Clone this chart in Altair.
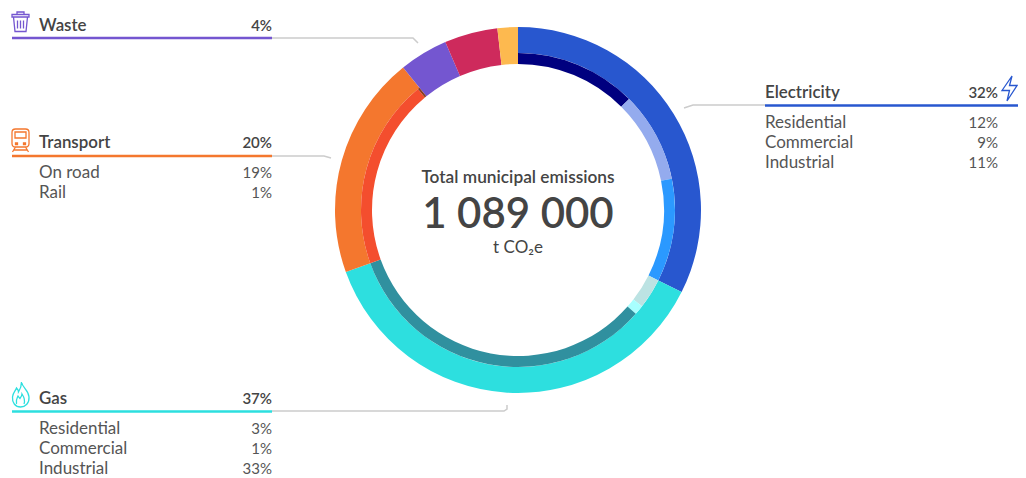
import re
import altair as alt
import pandas as pd

W, H = 1010, 470
OX, OY = 8, 8
FONT = "Lato"
DARK = "#444444"
SUB = "#555555"

# outer ring (percent of the total)
outer_names = ["Electricity", "Gas", "Transport"]
outer_start = [0, 32.4, 69.5]
outer_end = [32.4, 69.5, 89.2]
outer_colors = ["#2857cf", "#2ddfdf", "#f4772e"]

# full-width slices with no breakdown
full_names = ["Waste", "Other A", "Other B"]
full_start = [89.2, 93.5, 98.2]
full_end = [93.5, 98.2, 100]
full_colors = ["#7456d0", "#ce2a5c", "#fdb94f"]

inner_names = ["E Res", "E Com", "E Ind", "G Res", "G Com", "G Ind", "T Road", "T Rail"]
inner_start = [0, 12.5, 21.8, 32.4, 35.5, 36.5, 69.5, 89.0]
inner_end = [12.5, 21.8, 32.4, 35.5, 36.5, 69.5, 89.0, 89.2]
inner_colors = ["#00007f", "#94abee", "#2b99ff", "#bce3e3", "#a8ffff", "#30909f", "#f44e2e", "#8a3a1e"]

# heading rows
head_text = ["Waste", "Transport", "Gas", "Electricity"]
head_x = [39, 39, 39, 765]
head_y = [26, 143, 399, 93]
head_pct = ["4%", "20%", "37%", "32%"]
head_pct_x = [272, 272, 272, 998]

# sub rows
sub_text = ["On road", "Rail", "Residential", "Commercial", "Industrial",
            "Residential", "Commercial", "Industrial"]
sub_pct = ["19%", "1%", "3%", "1%", "33%", "12%", "9%", "11%"]
sub_x = [39, 39, 39, 39, 39, 765, 765, 765]
sub_pct_x = [272, 272, 272, 272, 272, 998, 998, 998]
sub_y = [173, 193, 429, 449, 469, 123, 143, 163]

# heading rules
rule_x = [12, 12, 12, 765]
rule_x2 = [272, 272, 272, 1018]
rule_y = [38, 156, 411.5, 105.5]
rule_c = ["#7456d0", "#f4772e", "#2ddfdf", "#2857cf"]

# leader lines
lead_id = [0, 0, 0, 1, 1, 1, 2, 2, 2, 2, 3, 3, 3]
lead_x = [272, 413, 418, 272, 324, 331, 272, 504, 507, 507, 765, 693, 684]
lead_y = [38, 38, 43, 156, 156, 158, 411, 411, 409, 405, 105, 105, 108]

# icons, in pixels around their centre
ICONS = {
    "waste": "M-8.5 -7 L8.5 -7 L8.5 -4.5 L-8.5 -4.5 Z M-3.5 -7 L-3.5 -9.5 L3.5 -9.5 L3.5 -7 "
             "M-7 -4.5 L-5.5 10 L5.5 10 L7 -4.5 M-3 -1 L-3 7 M0 -1 L0 7 M3 -1 L3 7",
    "train": "M-5 -11 L5 -11 C7.5 -11 8.5 -10 8.5 -7.5 L8.5 3.5 C8.5 6 7.5 7 5 7 L-5 7 C-7.5 7 -8.5 6 -8.5 3.5 "
             "L-8.5 -7.5 C-8.5 -10 -7.5 -11 -5 -11 Z M-5.5 -8 L5.5 -8 L5.5 -2 L-5.5 -2 Z "
             "M-5 3 L-3 3 L-3 4.5 L-5 4.5 Z M3 3 L5 3 L5 4.5 L3 4.5 Z "
             "M-5 7 L-8 12 M5 7 L8 12 M-6.5 10 L6.5 10",
    "flame": "M1 -13 C2 -7 8 -5 8.5 2 C9 8 5 12 0 12 C-5 12 -8.5 8 -8 2 C-7.7 -2 -5 -4 -4 -7 C-2.5 -5.5 -2 -4 -2 -3 "
             "C0 -6 1 -9 1 -13 Z M-4 9 C-5 5 -3.5 3 -2.5 1 C-1.5 2.5 -1 3 -0.5 3.5 C0.5 2 1.5 0 1.5 -1 "
             "C3.5 2 5 5 3.5 9",
    "bolt": "M2.5 -12.5 L-7.5 2 L0 2 L-2.5 12.5 L7.5 -3 L0 -3 Z",
}
icon_name = ["waste", "train", "flame", "bolt"]
icon_x = [20.5, 20.5, 20.5, 1009.5]
icon_y = [21.5, 140, 395, 88.5]
icon_c = ["#7456d0", "#f4772e", "#2ddfdf", "#2857cf"]

# centre text
center_text = ["Total municipal emissions", "1 089 000", "t CO₂e"]
center_y = [178, 215, 248]
center_size = [17.3, 42, 17]
center_weight = [600, 600, 400]

CX, CY = 518 - OX, 210 - OY


def unit(path, half=12.0):
    return re.sub(r"-?\d+(?:\.\d+)?", lambda m: f"{float(m.group()) / half:.4f}", path)


xs = alt.Scale(domain=[0, W], range=[0, W])
ys = alt.Scale(domain=[0, H], range=[0, H])
X = lambda f="x": alt.X(f"{f}:Q", scale=xs, axis=None)
Y = lambda f="y": alt.Y(f"{f}:Q", scale=ys, axis=None)
TH = alt.Scale(domain=[0, 100], range=[0, 6.283185307])


def ring(names, start, end, colors, r0, r1):
    df = pd.DataFrame({"name": names, "s": start, "e": end, "c": colors})
    return alt.Chart(df).mark_arc(innerRadius=r0, outerRadius=r1).encode(
        x=alt.value(CX), y=alt.value(CY),
        theta=alt.Theta("s:Q", scale=TH, stack=None),
        theta2="e:Q",
        color=alt.Color("c:N", scale=None),
    )


def text_layer(texts, x, y, align, size, color, weight):
    df = pd.DataFrame({"t": texts, "x": [v - OX for v in x], "y": [v - OY for v in y]})
    return alt.Chart(df).mark_text(
        font=FONT, fontSize=size, color=color, fontWeight=weight, align=align, baseline="middle"
    ).encode(x=X(), y=Y(), text="t:N")


outer = ring(outer_names, outer_start, outer_end, outer_colors, 157, 183)
full = ring(full_names, full_start, full_end, full_colors, 146, 183)
inner = ring(inner_names, inner_start, inner_end, inner_colors, 146, 157)

leads = alt.Chart(pd.DataFrame({
    "id": lead_id, "x": [v - OX for v in lead_x], "y": [v - OY for v in lead_y],
    "o": list(range(len(lead_id)))
})).mark_line(color="#cccccc", strokeWidth=1.5).encode(x=X(), y=Y(), detail="id:N", order="o:Q")

rules = alt.Chart(pd.DataFrame({
    "x": [v - OX for v in rule_x], "x2": [v - OX for v in rule_x2],
    "y": [v - OY for v in rule_y], "c": rule_c
})).mark_rule(strokeWidth=2.6).encode(x=X(), x2="x2:Q", y=Y(), color=alt.Color("c:N", scale=None))

icons = []
for n, ix, iy, c in zip(icon_name, icon_x, icon_y, icon_c):
    icons.append(alt.Chart(pd.DataFrame({"x": [ix - OX], "y": [iy - OY]})).mark_point(
        shape=unit(ICONS[n]), size=576, filled=False, stroke=c, strokeWidth=1.3, opacity=1
    ).encode(x=X(), y=Y()))

texts = [
    text_layer(head_text, head_x, head_y, "left", 16.9, DARK, 600),
    text_layer(head_pct, head_pct_x, head_y, "right", 15, DARK, 600),
    text_layer(sub_text, sub_x, sub_y, "left", 17, SUB, 400),
    text_layer(sub_pct, sub_pct_x, sub_y, "right", 15, SUB, 400),
]

centers = []
for t, y, s, w in zip(center_text, center_y, center_size, center_weight):
    centers.append(alt.Chart(pd.DataFrame({"t": [t], "x": [518 - OX], "y": [y - OY]})).mark_text(
        font=FONT, fontSize=s, color=DARK, fontWeight=w, align="center", baseline="middle"
    ).encode(x=X(), y=Y(), text="t:N"))

chart = alt.layer(outer, full, inner, leads, rules, *icons, *texts, *centers).properties(
    width=W, height=H, padding=0, background="white",
    autosize=alt.AutoSizeParams(type="none"),
).configure_view(stroke=None).resolve_scale(color="independent", theta="shared")

chart.save("out.html", embed_options={"renderer": "svg", "actions": False})
